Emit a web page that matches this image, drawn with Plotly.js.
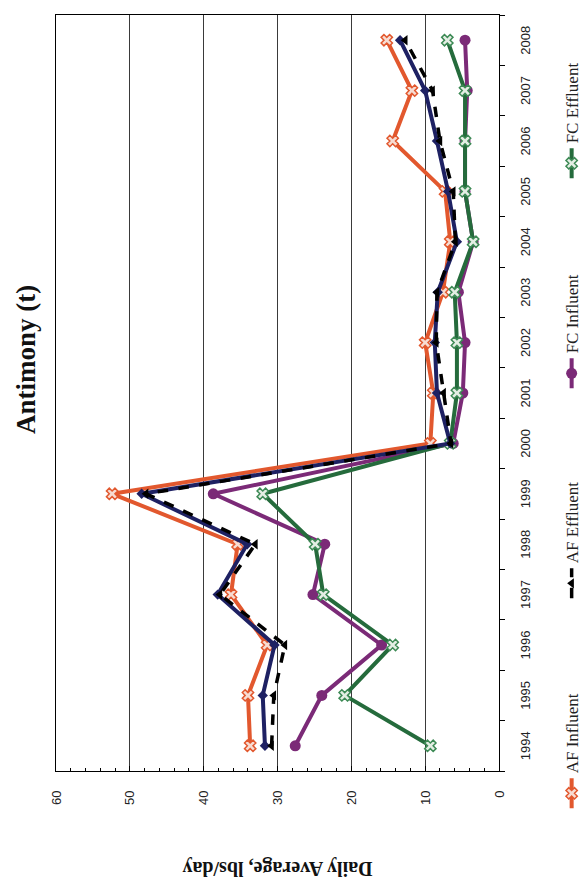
<!DOCTYPE html>
<html>
<head>
<meta charset="utf-8">
<script src="https://cdn.plot.ly/plotly-3.0.1.min.js"></script>
<style>
  html, body { margin: 0; padding: 0; width: 587px; height: 881px; overflow: hidden; background: #ffffff; }
  #plot {
    position: absolute; left: 0; top: 0;
    width: 881px; height: 587px;
    transform-origin: 0 0;
    transform: translate(0px, 881px) rotate(-90deg);
  }
</style>
</head>
<body>
<div id="plot"></div>
<script>
// ---- data ----
const years = ['1994','1995','1996','1997','1998','1999','2000','2001','2002','2003','2004','2005','2006','2007','2008'];
const afInfluent     = [33.7, 34.0, 31.4, 36.3, 35.4, 52.4, 9.3, 8.9, 10.0, 7.6, 6.6, 7.3, 14.4, 11.8, 15.2];
const afEffluentLine = [31.7, 32.0, 30.4, 38.1, 34.1, 48.4, 6.6, 8.4, 8.7, 8.3, 5.7, 6.9, 8.4, 10.0, 13.4];
const afEffluent     = [30.8, 30.5, 29.0, 37.8, 33.0, 47.8, 6.5, 7.5, 8.5, 8.4, 5.9, 6.2, 8.0, 9.0, 12.7];
const fcInfluent     = [27.6, 24.0, 15.9, 25.2, 23.6, 38.7, 6.2, 4.9, 4.6, 5.5, 3.5, 4.6, 4.6, 4.3, 4.6];
const fcEffluent     = [9.3, 20.9, 14.4, 23.8, 24.9, 32.0, 6.6, 5.7, 5.7, 6.0, 3.5, 4.6, 4.6, 4.6, 7.0];
const seriesNames = ['AF Influent', 'AF Effluent', 'FC Influent', 'FC Effluent'];
const chartTitle = 'Antimony (t)';
const yTitle = 'Daily Average, lbs/day';

const traces = [
  {
    name: seriesNames[0], x: years, y: afInfluent, type: 'scatter', mode: 'lines+markers',
    line: { color: '#e2582e', width: 4 },
    marker: { symbol: 'x', size: 10, color: '#f7dcd2', line: { color: '#e2582e', width: 1.5 } },
    legendrank: 1
  },
  {
    name: seriesNames[2], x: years, y: fcInfluent, type: 'scatter', mode: 'lines+markers',
    line: { color: '#7b2a77', width: 4 },
    marker: { symbol: 'circle', size: 11, color: '#7b2a77' },
    legendrank: 3
  },
  {
    name: seriesNames[3], x: years, y: fcEffluent, type: 'scatter', mode: 'lines+markers',
    line: { color: '#256b3c', width: 4 },
    marker: { symbol: 'x', size: 10, color: '#e4eee4', line: { color: '#3d8a55', width: 1.5 } },
    legendrank: 4
  },
  {
    name: seriesNames[1], x: years, y: afEffluentLine, type: 'scatter', mode: 'lines+markers',
    line: { color: '#1e2163', width: 4 },
    marker: { symbol: 'diamond', size: 8, color: '#1e2163' },
    showlegend: false, legendgroup: 'afe'
  },
  {
    name: seriesNames[1], x: years, y: afEffluent, type: 'scatter', mode: 'lines+markers',
    line: { color: '#000000', width: 3.5, dash: 'dash' },
    marker: { symbol: 'triangle-up', size: 9, color: '#000000' },
    legendgroup: 'afe', legendrank: 2
  }
];

const layout = {
  width: 881, height: 587,
  margin: { l: 110, r: 15, t: 56, b: 88, autoexpand: false },
  paper_bgcolor: '#ffffff', plot_bgcolor: '#ffffff',
  font: { family: 'Liberation Sans, Arial, sans-serif', color: '#222' },
  title: {
    text: chartTitle,
    font: { family: 'Liberation Serif, Times New Roman, serif', size: 27, weight: 'bold', color: '#111' },
    x: 0.592, xanchor: 'center', xref: 'container',
    y: 0.957, yanchor: 'middle', yref: 'container'
  },
  xaxis: {
    type: 'category',
    range: [-0.5, 14.5], autorange: false,
    tickson: 'boundaries', ticks: 'outside', ticklen: 5, tickcolor: '#000',
    showline: true, linecolor: '#000', linewidth: 1, mirror: true,
    showgrid: false, zeroline: false,
    tickfont: { family: 'Liberation Sans, Arial, sans-serif', size: 13, color: '#222' },
    ticklabelstandoff: 14,
    automargin: false,
    fixedrange: true
  },
  yaxis: {
    range: [0, 60], autorange: false, dtick: 10, tick0: 0,
    ticks: 'inside', ticklen: 5, tickcolor: '#000',
    minor: { dtick: 2, ticks: 'inside', ticklen: 3, tickcolor: '#000', showgrid: false },
    showgrid: true, gridcolor: '#3a3a3a', gridwidth: 1,
    showline: true, linecolor: '#000', linewidth: 1, mirror: true,
    zeroline: false,
    tickfont: { family: 'Liberation Sans, Arial, sans-serif', size: 13, color: '#222' },
    ticklabelstandoff: 16,
    title: {
      text: yTitle, standoff: 50,
      font: { family: 'Liberation Serif, Times New Roman, serif', size: 20, weight: 'bold', color: '#111' }
    },
    automargin: false,
    fixedrange: true
  },
  showlegend: true,
  legend: {
    orientation: 'h', traceorder: 'normal',
    x: -0.056, xanchor: 'left', y: -0.165, yanchor: 'middle',
    entrywidth: 165, entrywidthmode: 'pixels',
    font: { family: 'Liberation Serif, Times New Roman, serif', size: 17, color: '#222' },
    bgcolor: 'rgba(0,0,0,0)'
  }
};

Plotly.newPlot('plot', traces, layout, { staticPlot: true, displayModeBar: false });
</script>
</body>
</html>
